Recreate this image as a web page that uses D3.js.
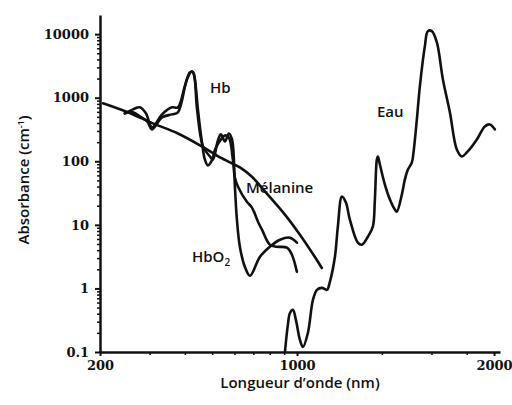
<!DOCTYPE html>
<html><head><meta charset="utf-8">
<script src="https://cdn.jsdelivr.net/npm/d3@7"></script>
<style>body{margin:0;background:#fff}svg{display:block}</style>
</head><body>
<svg id="c" width="512" height="405"></svg>
<script>
// ---- data (wavelength in nm, absorbance in cm^-1) ----
const xTickValues = [200, 1000, 5000];
const xTickLabels = ["200", "1000", "2000"];
const xMinorTicks = [300, 400, 500, 600, 700, 800, 900, 2000, 3000, 4000];
const yTickValues = [0.1, 1, 10, 100, 1000, 10000];
const yTickLabels = ["0.1", "1", "10", "100", "1000", "10000"];

const melaninWl  = [205, 251, 308, 378, 460, 533, 627, 692, 782, 906, 1024, 1156, 1225];
const melaninAbs = [816, 589, 395, 274, 171, 115, 80, 57, 31, 14.5, 7.0, 3.15, 2.1];

const hbWl  = [245, 262, 277, 291, 306, 332, 360, 378, 400, 417, 427, 434, 445, 460, 471, 483, 499, 512, 528, 555, 573, 592, 602, 617, 664, 692, 727, 751, 801, 849, 921, 959, 999];
const hbAbs = [568, 656, 706, 568, 341, 547, 706, 706, 1513, 2516, 2516, 1950, 656, 198, 107, 86, 103, 153, 198, 255, 237, 107, 55.5, 40, 23, 18.7, 11.2, 8.4, 4.87, 4.53, 4.37, 3.39, 1.83];

const hbo2Wl  = [245, 262, 277, 294, 306, 332, 360, 378, 407, 424, 431, 442, 464, 491, 503, 524, 537, 555, 573, 588, 602, 612, 627, 653, 681, 739, 801, 870, 944, 999];
const hbo2Abs = [568, 589, 509, 425, 318, 491, 547, 589, 1950, 2609, 2339, 656, 171, 119, 107, 213, 265, 205, 274, 221, 40, 12.1, 4.53, 2.19, 1.58, 3.15, 4.53, 5.84, 6.28, 5.24];

const waterWl  = [906, 928, 944, 967, 991, 1024, 1050, 1093, 1139, 1177, 1225, 1277, 1308, 1363, 1396, 1443, 1491, 1540, 1644, 1699, 1784, 1858, 1889, 1920, 1936, 1968, 2050, 2136, 2224, 2260, 2355, 2414, 2474, 2556, 2597, 2662, 2728, 2842, 2912, 3008, 3133, 3292, 3486, 3690, 3844, 4004, 4346, 4638, 4831, 5032];
const waterAbs = [0.1, 0.267, 0.41, 0.46, 0.32, 0.155, 0.12, 0.2, 0.66, 0.95, 1.02, 0.95, 1.27, 3.15, 9.4, 27.8, 22.4, 12.1, 5.24, 4.87, 6.5, 9.4, 24.9, 107, 119, 89, 43, 25, 17.4, 16.1, 30, 52, 74, 96, 153, 456, 1513, 6471, 11150, 11150, 7482, 1950, 589, 153, 119, 138, 221, 354, 380, 318];

// ---- drawing ----
const svg = d3.select("#c");
const x = d3.scaleLog().domain([200, 5250]).range([100, 500]);
const y = d3.scaleLog().domain([0.1, 20000]).range([352, 15]);

const ink = "#111";
const tickFont = "'DejaVu Serif', serif";
const labFont = "'Open Sans', sans-serif";

// minor ticks
const yMinor = [];
for (let e = -1; e <= 4; e++) for (let k = 2; k <= 9; k++) { const v = k * Math.pow(10, e); if (v < 20000) yMinor.push(v); }

svg.append("g").attr("transform", "translate(100,0)")
  .call(d3.axisLeft(y).tickValues(yMinor).tickFormat("").tickSize(3).tickSizeOuter(0))
  .call(g => g.select(".domain").remove())
  .call(g => g.selectAll("line").attr("stroke", ink).attr("stroke-width", 1.5));

svg.append("g").attr("transform", "translate(0,352)")
  .call(d3.axisBottom(x).tickValues(xMinorTicks).tickFormat("").tickSize(3).tickSizeOuter(0))
  .call(g => g.select(".domain").remove())
  .call(g => g.selectAll("line").attr("stroke", ink).attr("stroke-width", 1.5));

const yAxis = svg.append("g").attr("transform", "translate(100,0)")
  .call(d3.axisLeft(y).tickValues(yTickValues).tickFormat((d, i) => yTickLabels[i]).tickSize(5).tickSizeOuter(0).tickPadding(6));
yAxis.select(".domain").attr("stroke", ink).attr("stroke-width", 2.5);
yAxis.selectAll("line").attr("stroke", ink).attr("stroke-width", 2);
yAxis.selectAll("text").attr("fill", ink).style("font-family", tickFont).style("font-weight", "bold").style("font-size", "13px");

const xAxis = svg.append("g").attr("transform", "translate(0,352)")
  .call(d3.axisBottom(x).tickValues(xTickValues).tickFormat((d, i) => xTickLabels[i]).tickSize(4).tickSizeOuter(0).tickPadding(5));
xAxis.select(".domain").attr("stroke", ink).attr("stroke-width", 2.5);
xAxis.selectAll("line").attr("stroke", ink).attr("stroke-width", 2);
xAxis.selectAll("text").attr("fill", ink).style("font-family", tickFont).style("font-weight", "bold").style("font-size", "13px");

// curves
const line = d3.line().x(d => x(d[0])).y(d => y(d[1])).curve(d3.curveCatmullRom.alpha(0.5));
const series = [
  [melaninWl, melaninAbs],
  [hbWl, hbAbs],
  [hbo2Wl, hbo2Abs],
  [waterWl, waterAbs]
];
svg.append("g").selectAll("path").data(series).join("path")
  .attr("d", s => line(s[0].map((w, i) => [w, s[1][i]])))
  .attr("fill", "none").attr("stroke", ink).attr("stroke-width", 2.6)
  .attr("stroke-linejoin", "round").attr("stroke-linecap", "round");

// labels
function label(txt, px, py, sub) {
  const t = svg.append("text").attr("x", px).attr("y", py)
    .attr("fill", ink).style("font-family", labFont).style("font-weight", 600).style("font-size", "15px").text(txt);
  if (sub) t.append("tspan").attr("dy", 4).style("font-size", "10px").text(sub);
  return t;
}
label("Hb", 210, 93);
label("Eau", 377, 117);
label("Mélanine", 246, 193);
label("HbO", 192, 262, "2");

// axis titles
svg.append("text").attr("x", 300).attr("y", 388).attr("text-anchor", "middle")
  .attr("fill", ink).style("font-family", labFont).style("font-weight", 600).style("font-size", "15px")
  .text("Longueur d’onde (nm)");
const yt = svg.append("text").attr("transform", "translate(29,180) rotate(-90)").attr("text-anchor", "middle")
  .attr("fill", ink).style("font-family", labFont).style("font-weight", 600).style("font-size", "15px");
yt.append("tspan").text("Absorbance (cm");
yt.append("tspan").attr("dy", -5).style("font-size", "9px").text("-1");
yt.append("tspan").attr("dy", 5).text(")");
</script>
</body></html>
